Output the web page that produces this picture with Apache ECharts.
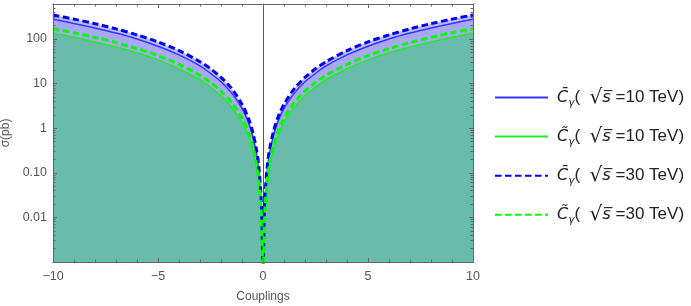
<!DOCTYPE html>
<html><head><meta charset="utf-8">
<script src="https://cdn.jsdelivr.net/npm/echarts@6/dist/echarts.min.js"></script>
<style>html,body{margin:0;padding:0;background:#fff}#c{width:691px;height:306px}</style>
</head><body><div id="c"></div>
<script>
// |coupling| values (curves are mirror-symmetric about 0)
const couplings   = [0.01, 0.02, 0.05, 0.1, 0.2, 0.3, 0.5, 0.7, 1, 1.5, 2, 2.5, 3, 4, 5, 6, 7, 8, 9, 10];
const sigmaBar10   = [0.00028, 0.0011, 0.0069, 0.028, 0.11, 0.25, 0.69, 1.36, 2.8, 6.2, 11, 17, 25, 44, 69, 100, 136, 177, 224, 277];
const sigmaTilde10 = [0.000135, 0.00054, 0.0034, 0.0135, 0.054, 0.12, 0.34, 0.66, 1.35, 3.0, 5.4, 8.4, 12.2, 21.6, 34, 49, 66, 86, 109, 135];
const sigmaBar30   = [0.00035, 0.0014, 0.0086, 0.034, 0.14, 0.31, 0.86, 1.7, 3.45, 7.8, 13.8, 21.5, 31, 55, 86, 124, 169, 221, 279, 345];
const sigmaTilde30 = [0.00017, 0.0007, 0.0042, 0.017, 0.068, 0.15, 0.42, 0.83, 1.7, 3.8, 6.8, 10.6, 15.3, 27, 42.5, 61, 83, 109, 138, 170];

const xTickValues = [-10, -5, 0, 5, 10];
const xTickLabels = ['\u221210', '\u22125', '0', '5', '10'];
const yTickValues = [0.01, 0.1, 1, 10, 100];
const yTickLabels = ['0.01', '0.10', '1', '10', '100'];
const yMinorTicks = [0.002,0.003,0.004,0.005,0.006,0.007,0.008,0.009,
  0.02,0.03,0.04,0.05,0.06,0.07,0.08,0.09,
  0.2,0.3,0.4,0.5,0.6,0.7,0.8,0.9,
  2,3,4,5,6,7,8,9, 20,30,40,50,60,70,80,90, 200,300,400,500,600];
const yMin = 0.001, yMax = 610;

function mirror(vals) {
  const d = [];
  for (let i = couplings.length - 1; i >= 0; i--) d.push([-couplings[i], vals[i]]);
  for (let i = 0; i < couplings.length; i++) d.push([couplings[i], vals[i]]);
  return d;
}

const tickColor = '#666';
const labelColor = '#555';
const font = 'Liberation Sans, Arial, sans-serif';

function xLabel(v) {
  const i = xTickValues.findIndex(t => Math.abs(t - v) < 1e-6);
  return i >= 0 ? xTickLabels[i] : '';
}
function yLabel(v) {
  const i = yTickValues.findIndex(t => Math.abs(Math.log10(t) - Math.log10(v)) < 1e-3);
  return i >= 0 ? yTickLabels[i] : '';
}

function xAxisDef(pos, showLabel) {
  return {
    type: 'value', min: -10, max: 10, interval: 5, position: pos, z: 10,
    axisLine: { onZero: false, lineStyle: { color: tickColor, width: 1 } },
    axisTick: { inside: true, length: 4, lineStyle: { color: tickColor } },
    minorTick: { show: true, splitNumber: 5, length: 2.5, lineStyle: { color: tickColor } },
    splitLine: { show: false },
    axisLabel: { show: showLabel, formatter: xLabel, color: labelColor, fontSize: 12.5, fontFamily: font, margin: 8 },
    name: showLabel ? 'Couplings' : '', nameLocation: 'middle', nameGap: 29,
    nameTextStyle: { color: labelColor, fontSize: 12, fontFamily: font }
  };
}
function yAxisDef(pos, ticks, len, showLabel) {
  return {
    type: 'log', min: yMin, max: yMax, position: pos, z: 10,
    axisLine: { onZero: false, lineStyle: { color: tickColor, width: 1 } },
    axisTick: { inside: true, length: len, customValues: ticks, lineStyle: { color: tickColor } },
    axisLabel: { show: showLabel, customValues: yTickValues, formatter: yLabel, color: labelColor, fontSize: 12.5, fontFamily: font, margin: 6 },
    splitLine: { show: false }, minorTick: { show: false },
    name: showLabel ? '\u03c3(pb)' : '', nameLocation: 'middle', nameGap: 40, nameRotate: 90,
    nameTextStyle: { color: labelColor, fontSize: 12, fontFamily: font }
  };
}

const fillTop = '#babafc', fillMid = '#a8a8f4', fillLow = '#69bbab';
const cBar10 = '#3535ff', cTilde10 = '#22ee22', cBar30 = '#0000f0', cTilde30 = '#00ff00';

function areaSeries(vals, color) {
  return { type: 'line', data: mirror(vals), symbol: 'none', silent: true, smooth: 0.3,
    lineStyle: { width: 0 }, areaStyle: { color: color, opacity: 1, origin: 'start' }, z: 2 };
}
function lineSeries(name, vals, color, width, dashed) {
  return { name: name, type: 'line', data: mirror(vals), symbol: 'none', silent: true, smooth: 0.3,
    lineStyle: { color: color, width: width, type: dashed ? [6.5, 3.5] : 'solid', cap: 'butt' },
    itemStyle: { color: color }, z: 3 };
}

const legendText = {
  bar10:   '{c|C\u0304}{g|\u03b3}{t|(  }{r|\u221a}{s|s\u0305}{t| =10 TeV)}',
  tilde10: '{c|C\u0303}{g|\u03b3}{t|(  }{r|\u221a}{s|s\u0305}{t| =10 TeV)}',
  bar30:   '{c|C\u0304}{g|\u03b3}{t|(  }{r|\u221a}{s|s\u0305}{t| =30 TeV)}',
  tilde30: '{c|C\u0303}{g|\u03b3}{t|(  }{r|\u221a}{s|s\u0305}{t| =30 TeV)}'
};

const chart = echarts.init(document.getElementById('c'), null, { renderer: 'canvas' });
chart.setOption({
  animation: false,
  backgroundColor: '#fff',
  grid: { left: 53, right: 218, top: 4, bottom: 44, containLabel: false, outerBoundsMode: 'none' },
  xAxis: [xAxisDef('bottom', true), xAxisDef('top', false)],
  yAxis: [
    yAxisDef('left', yTickValues, 4, true),
    yAxisDef('left', yMinorTicks, 2.5, false),
    yAxisDef('right', yTickValues, 4, false),
    yAxisDef('right', yMinorTicks, 2.5, false),
    { type: 'log', min: yMin, max: yMax, position: 'left', z: 0,
      axisLine: { onZero: true, onZeroAxisIndex: 0, lineStyle: { color: '#555', width: 1 } },
      axisTick: { show: false }, axisLabel: { show: false }, splitLine: { show: false } }
  ],
  legend: {
    orient: 'vertical', left: 494, top: 87.5, padding: 0, itemWidth: 53, itemHeight: 14, itemGap: 18.1,
    itemStyle: { opacity: 0 },
    data: ['bar10', 'tilde10', 'bar30', 'tilde30'],
    formatter: n => legendText[n],
    textStyle: {
      padding: [0, 0, 0, 4],
      rich: {
        c: { fontFamily: 'DejaVu Sans', fontStyle: 'italic', fontSize: 16, lineHeight: 22, color: '#222' },
        g: { fontFamily: 'DejaVu Sans', fontStyle: 'italic', fontSize: 10.5, lineHeight: 12, verticalAlign: 'bottom', color: '#222' },
        t: { fontFamily: font, fontSize: 17, lineHeight: 22, color: '#222' },
        r: { fontFamily: 'DejaVu Sans', fontSize: 20, lineHeight: 22, color: '#222' },
        s: { fontFamily: 'DejaVu Sans', fontStyle: 'italic', fontSize: 16.5, lineHeight: 22, color: '#222' }
      }
    }
  },
  series: [
    areaSeries(sigmaBar30, fillTop),
    areaSeries(sigmaBar10, fillMid),
    areaSeries(sigmaTilde10, fillLow),
    lineSeries('bar10', sigmaBar10, cBar10, 1.5, false),
    lineSeries('tilde10', sigmaTilde10, cTilde10, 1.5, false),
    lineSeries('bar30', sigmaBar30, cBar30, 3, true),
    lineSeries('tilde30', sigmaTilde30, cTilde30, 3, true)
  ]
});
</script></body></html>
